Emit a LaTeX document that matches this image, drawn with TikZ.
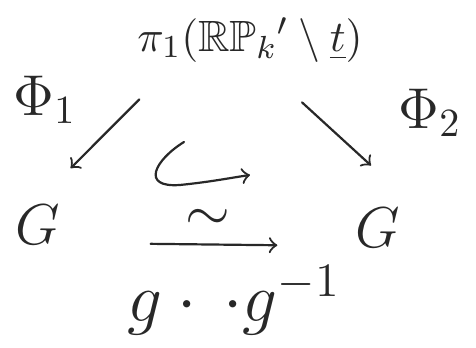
\documentclass[tikz,border=0pt]{standalone}
\usepackage{amsmath, amssymb}
\usepackage{tikz}
\definecolor{penink}{RGB}{40, 40, 40}

\begin{document}
\begin{tikzpicture}[x=0.25pt, y=-0.25pt, penink, line width=0.55pt,
  big/.style={font=\fontsize{14.4}{16}\selectfont},
  head/.style={font=\fontsize{10.95}{13}\selectfont},
  arr/.style={->, line cap=round}]
  \useasboundingbox (0,0) rectangle (476,348);
  \node[head] (top) at (250,40) {$\pi_1(\mathbb{RP}_k{}'\setminus\underline{t})$};
  \node[big] (gl) at (38,225) {$G$};
  \node[big] (gr) at (378,228) {$G$};
  \node[big] (phil) at (45,100) {$\Phi_1$};
  \node[big] (phir) at (430,113) {$\Phi_2$};
  \node[font=\fontsize{17.28}{19}\selectfont] (conj) at (234,300) {$g\cdot\,\cdot g^{-1}$};
  \draw[arr, shorten <=8pt, shorten >=8pt] ([xshift=-22pt]top.south) -- ([xshift=2.5pt]gl.north);
  \draw[arr, shorten <=9.5pt, shorten >=10.5pt] ([xshift=6pt]top.south) -- ([xshift=6pt]gr.north);
  \draw[arr, shorten <=19pt, shorten >=16pt] ([yshift=-4.5pt]gl.east) -- node[above, big] (iso) {$\sim$} ([yshift=-4.5pt]gr.west);
  \coordinate (hooka) at (184,142);
  \coordinate (hookb) at (250,175);
  \draw[arr] (hooka) .. controls (155,160) and (140,188) .. (180,185) .. controls (210,182) and (230,178) .. (hookb);
\end{tikzpicture}
\end{document}
